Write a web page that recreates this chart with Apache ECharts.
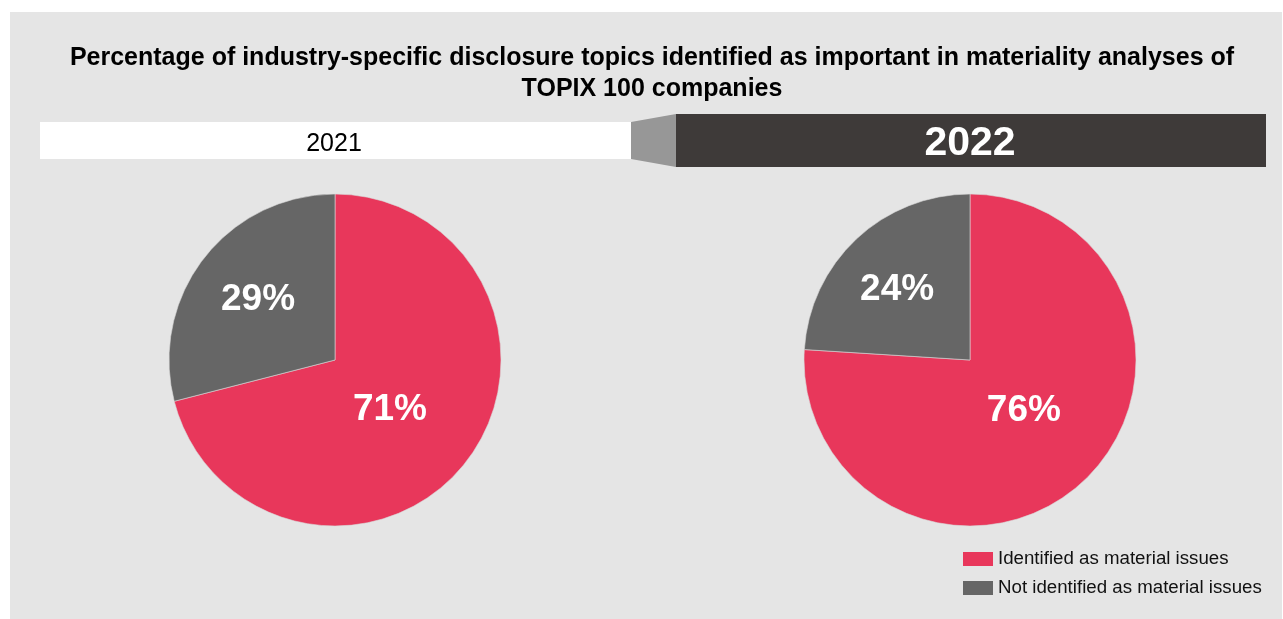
<!DOCTYPE html>
<html>
<head>
<meta charset="utf-8">
<style>
  html, body { margin: 0; padding: 0; background: #ffffff; }
  #chart { width: 1283px; height: 619px; }
</style>
<script src="https://cdn.jsdelivr.net/npm/echarts@6/dist/echarts.min.js"></script>
</head>
<body>
<div id="chart"></div>
<script>
// Survey years shown in the two header bars
const years = ['2021', '2022'];
// Slice categories (legend order)
const categories = ['Identified as material issues', 'Not identified as material issues'];
// Share of disclosure topics per year, in percent
const identified = [71, 76];
const notIdentified = [29, 24];

const TITLE = 'Percentage of industry-specific disclosure topics identified as important in materiality analyses of\nTOPIX 100 companies';

const FONT = '"Liberation Sans", Arial, Helvetica, sans-serif';
const RED = '#e8375b';
const GREY = '#666666';

// nudges for the inside labels, per year then per slice
const labelShift = [
  [[-13, -3], [-9, -7]],
  [[-5, -12], [-14, -8]]
];

function pieSeries(i, cx) {
  return {
    type: 'pie',
    name: years[i],
    center: [cx, 360],
    radius: 166,
    startAngle: 90,
    clockwise: true,
    silent: true,
    animation: false,
    itemStyle: { borderColor: '#d9d9d9', borderWidth: 0.6 },
    label: {
      show: true,
      position: 'inside',
      formatter: '{c}%',
      color: '#ffffff',
      fontFamily: FONT,
      fontWeight: 'bold',
      fontSize: 37
    },
    labelLine: { show: false },
    labelLayout: function (p) {
      const s = labelShift[i][p.dataIndex];
      return { dx: s[0], dy: s[1] };
    },
    data: [
      { name: categories[0], value: identified[i], itemStyle: { color: RED } },
      { name: categories[1], value: notIdentified[i], itemStyle: { color: GREY } }
    ]
  };
}

const chart = echarts.init(document.getElementById('chart'), null, { renderer: 'canvas' });

chart.setOption({
  backgroundColor: '#ffffff',
  animation: false,
  legend: {
    orient: 'vertical',
    left: 963,
    top: 549,
    padding: 0,
    itemWidth: 30,
    itemHeight: 14,
    itemGap: 9,
    icon: 'rect',
    selectedMode: false,
    data: categories,
    itemStyle: { borderWidth: 0 },
    textStyle: { fontFamily: FONT, fontSize: 18.7, lineHeight: 20, color: '#111111' }
  },
  graphic: [
    { type: 'rect', silent: true, z: -10, shape: { x: 10, y: 12, width: 1272, height: 607 }, style: { fill: '#e5e5e5' } },
    { type: 'text', silent: true, x: 652, y: 43, style: { text: TITLE, font: 'bold 25px ' + FONT, lineHeight: 31, fill: '#000000', textAlign: 'center', textVerticalAlign: 'top' } },
    { type: 'rect', silent: true, shape: { x: 40, y: 122, width: 591, height: 37 }, style: { fill: '#ffffff' } },
    { type: 'polygon', silent: true, shape: { points: [[631, 122], [676, 114], [676, 167], [631, 159]] }, style: { fill: '#979797' } },
    { type: 'rect', silent: true, shape: { x: 676, y: 114, width: 590, height: 53 }, style: { fill: '#3e3a39' } },
    { type: 'text', silent: true, x: 334, y: 144, style: { text: years[0], font: '25px ' + FONT, fill: '#000000', textAlign: 'center', textVerticalAlign: 'middle' } },
    { type: 'text', silent: true, x: 970, y: 144, style: { text: years[1], font: 'bold 41px ' + FONT, fill: '#ffffff', textAlign: 'center', textVerticalAlign: 'middle' } }
  ],
  series: [pieSeries(0, 335), pieSeries(1, 970)]
});
</script>
</body>
</html>
